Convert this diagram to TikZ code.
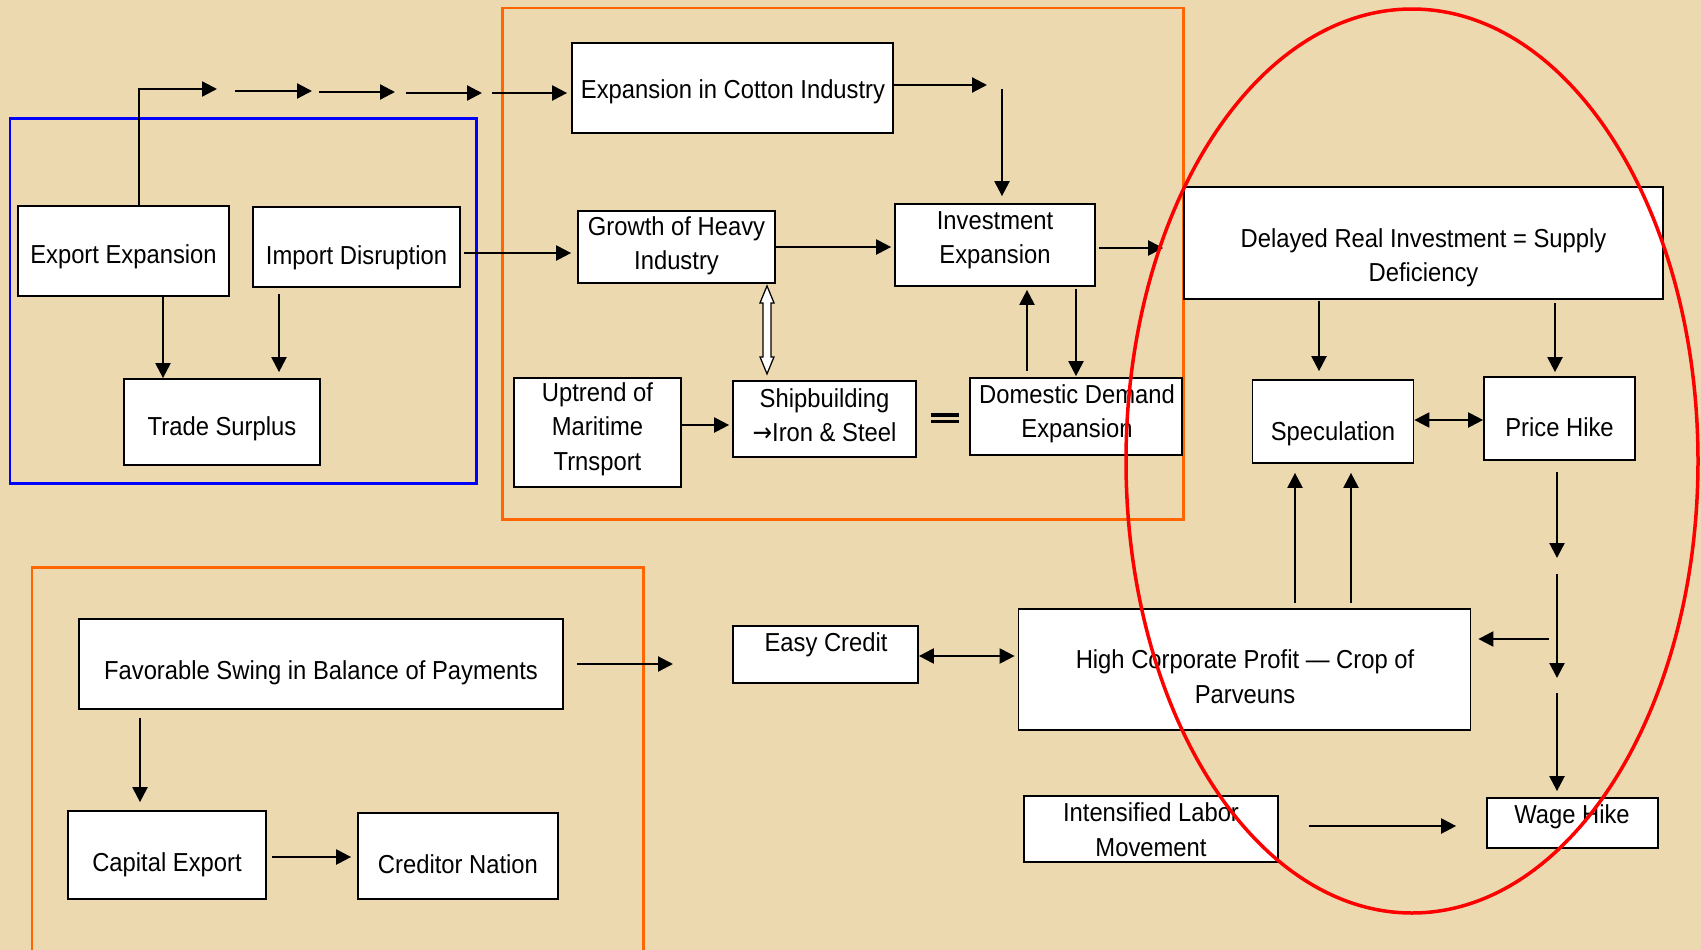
\documentclass[tikz,border=0pt]{standalone}
\usepackage{fontspec}
\setmainfont{Liberation Sans}[FakeStretch=0.915]
\newfontfamily\arrowfont{DejaVu Sans}[FakeStretch=0.9]
\usetikzlibrary{arrows.meta}

\definecolor{paper}{RGB}{236,217,176}
\definecolor{frameorange}{RGB}{255,102,0}

\tikzset{
  box/.style={draw=black, line width=0.035cm, fill=white, inner sep=0pt},
  sz/.style 2 args={minimum width=#1*0.02cm, minimum height=#2*0.02cm},
  txt/.style={font=\fontsize{14.8}{19.6}\selectfont, align=center, inner sep=0pt},
  arr/.style={line width=0.045cm, -{Triangle[length=0.3cm,width=0.3cm]}},
  arrtwo/.style={line width=0.045cm, {Triangle[length=0.3cm,width=0.3cm]}-{Triangle[length=0.3cm,width=0.3cm]}},
  frame/.style={line width=0.06cm},
  hollow/.style={draw=black, line width=0.025cm, fill=white},
}

\begin{document}
\begin{tikzpicture}[x=0.02cm,y=-0.02cm]
    \useasboundingbox (0,0) rectangle (1701,950);
    \clip (0,0) rectangle (1701,950);
    \fill[paper] (0,0) rectangle (1701,950);

    % frames
    \draw[frame,blue] (10,118) rectangle (476,483);
    \draw[frame,frameorange] (502,8) rectangle (1183,519);
    \draw[frame,frameorange] (32,960) -- (32,567) -- (643,567) -- (643,960);

    % boxes
    \node[box,sz={211}{90}] (expexp) at (123.5,251) {};
    \node[txt] (expexp-t) at (123.5,257) {Export Expansion};
    \node[box,sz={207}{80}] (impdis) at (356.5,247) {};
    \node[txt] (impdis-t) at (356.5,258) {Import Disruption};
    \node[box,sz={196}{86}] (trade) at (222,422) {};
    \node[txt] (trade-t) at (222,429) {Trade Surplus};
    \node[box,sz={321}{90}] (cotton) at (732.5,88) {};
    \node[txt] (cotton-t) at (733,92) {Expansion in Cotton Industry};
    \node[box,sz={197}{72}] (growth) at (676.5,247) {};
    \node[txt] (growth-t) at (676.5,246) {Growth of Heavy\\Industry};
    \node[box,sz={200}{82}] (invest) at (995,245) {};
    \node[txt] (invest-t) at (995,240) {Investment\\Expansion};
    \node[box,sz={167}{109}] (uptrend) at (597.5,432.5) {};
    \node[txt] (uptrend-t) at (597.5,429) {Uptrend of\\Maritime\\Trnsport};
    \node[box,sz={183}{76}] (ship) at (824.5,419) {};
    \node[txt] (ship-t) at (824.5,415) {Shipbuilding\\{\arrowfont →}Iron \& Steel};
    \node[box,sz={212}{77}] (domestic) at (1076,416.5) {};
    \node[txt] (domestic-t) at (1077,413.5) {Domestic Demand\\Expansion};
    \node[box,sz={479}{112}] (delayed) at (1423.5,243) {};
    \node[txt] (delayed-t) at (1423.5,257.5) {Delayed Real Investment = Supply\\Deficiency};
    \node[box,sz={161}{83}] (spec) at (1333,421.5) {};
    \node[txt] (spec-t) at (1333,434) {Speculation};
    \node[box,sz={151}{83}] (price) at (1559.5,418.5) {};
    \node[txt] (price-t) at (1559.5,427.5) {Price Hike};
    \node[box,sz={484}{90}] (favor) at (321,664) {};
    \node[txt] (favor-t) at (321,673) {Favorable Swing in Balance of Payments};
    \node[box,sz={198}{88}] (capital) at (167,855) {};
    \node[txt] (capital-t) at (167,865) {Capital Export};
    \node[box,sz={200}{86}] (creditor) at (458,856) {};
    \node[txt] (creditor-t) at (458,864) {Creditor Nation};
    \node[box,sz={185}{57}] (easy) at (825.5,654.5) {};
    \node[txt] (easy-t) at (826,645) {Easy Credit};
    \node[box,sz={452}{121}] (hcp) at (1244.5,669.5) {};
    \node[txt] (hcp-t) at (1245,676.5) {High Corporate Profit — Crop of\\Parveuns};
    \node[box,sz={254}{66}] (labor) at (1151,829) {};
    \node[txt] (labor-t) at (1151,829.5) {Intensified Labor\\Movement};
    \node[box,sz={171}{50}] (wage) at (1572.5,823) {};
    \node[txt] (wage-t) at (1572,817) {Wage Hike};

    % free ends of the broken arrows
    \coordinate (ch1) at (217,89);
    \coordinate (ch2) at (235,91);
    \coordinate (ch3) at (312,91);
    \coordinate (ch4) at (319,92);
    \coordinate (ch5) at (395,92);
    \coordinate (ch6) at (406,93);
    \coordinate (ch7) at (482,93);
    \coordinate (ch8) at (492,93);
    \coordinate (ct1) at (987,85);
    \coordinate (ct2) at (1002,89);
    \coordinate (pr1) at (1557,558);
    \coordinate (pr2) at (1557,574);
    \coordinate (pr3) at (1557,678);
    \coordinate (pr4) at (1557,693);
    \coordinate (pr5) at (1549,639);
    \coordinate (fv1) at (673,664);

    % connectors
    \draw[arr] (expexp.north -| 139,0) |- (ch1);
    \draw[arr] (ch2) -- (ch3);
    \draw[arr] (ch4) -- (ch5);
    \draw[arr] (ch6) -- (ch7);
    \draw[arr,shorten >=0.08cm] (ch8) -- (cotton.west |- ch8);
    \draw[arr,shorten <=0.06cm,shorten >=0.12cm] (impdis.east |- 0,253) -- (growth.west |- 0,253);
    \draw[arr] (expexp.south -| 163,0) -- (trade.north -| 163,0);
    \draw[arr,shorten <=0.12cm,shorten >=0.12cm] (impdis.south -| 279,0) -- (trade.north -| 279,0);
    \draw[arr] (cotton.east |- ct1) -- (ct1);
    \draw[arr,shorten >=0.14cm] (ct2) -- (invest.north -| ct2);
    \draw[arr,shorten >=0.06cm] (growth.east |- 0,247) -- (invest.west |- 0,247);
    \draw[arr,shorten <=0.06cm,shorten >=0.4cm] (invest.east |- 0,248) -- (delayed.west |- 0,248);
    \draw[hollow] (growth.south -| 767,0) ++(0,2) -- ++(7,17) -- ++(-3,0) -- ++(0,54) -- ++(3,0)
        -- ++(-7,17) -- ++(-7,-17) -- ++(3,0) -- ++(0,-54) -- ++(-3,0) -- cycle;
    \draw[arr,shorten >=0.06cm] (uptrend.east |- 0,425) -- (ship.west |- 0,425);
    \draw[double=paper,line width=0.07cm,double distance=0.06cm,shorten <=0.28cm,shorten >=0.2cm]
        (ship.east |- 0,418) -- (domestic.west |- 0,418);
    \draw[arr,shorten <=0.12cm,shorten >=0.06cm] (domestic.north -| 1027,0) -- (invest.south -| 1027,0);
    \draw[arr,shorten <=0.04cm,shorten >=0.02cm] (invest.south -| 1076,0) -- (domestic.north -| 1076,0);
    \draw[arr,shorten <=0.02cm,shorten >=0.16cm] (delayed.south -| 1319,0) -- (spec.north -| 1319,0);
    \draw[arr,shorten <=0.06cm,shorten >=0.08cm] (delayed.south -| 1555,0) -- (price.north -| 1555,0);
    \draw[arrtwo] (spec.east |- 0,420) -- (price.west |- 0,420);
    \draw[arr,shorten <=0.1cm,shorten >=0.18cm] (hcp.north -| 1295,0) -- (spec.south -| 1295,0);
    \draw[arr,shorten <=0.1cm,shorten >=0.18cm] (hcp.north -| 1351,0) -- (spec.south -| 1351,0);
    \draw[arr,shorten <=0.22cm] (price.south -| pr1) -- (pr1);
    \draw[arr] (pr2) -- (pr3);
    \draw[arr,shorten >=0.12cm] (pr4) -- (wage.north -| pr4);
    \draw[arr,shorten >=0.14cm] (pr5) -- (hcp.east |- pr5);
    \draw[arrtwo,shorten >=0.06cm] (easy.east |- 0,656) -- (hcp.west |- 0,656);
    \draw[arr,shorten <=0.26cm] (favor.east |- fv1) -- (fv1);
    \draw[arr,shorten <=0.16cm,shorten >=0.16cm] (favor.south -| 140,0) -- (capital.north -| 140,0);
    \draw[arr,shorten <=0.1cm,shorten >=0.12cm] (capital.east |- 0,857) -- (creditor.west |- 0,857);
    \draw[arr,shorten <=0.6cm,shorten >=0.6cm] (labor.east |- 0,826) -- (wage.west |- 0,826);

    % circled region
    \draw[red,line width=0.07cm] (1412,461) ellipse [x radius=286, y radius=452];
\end{tikzpicture}
\end{document}
